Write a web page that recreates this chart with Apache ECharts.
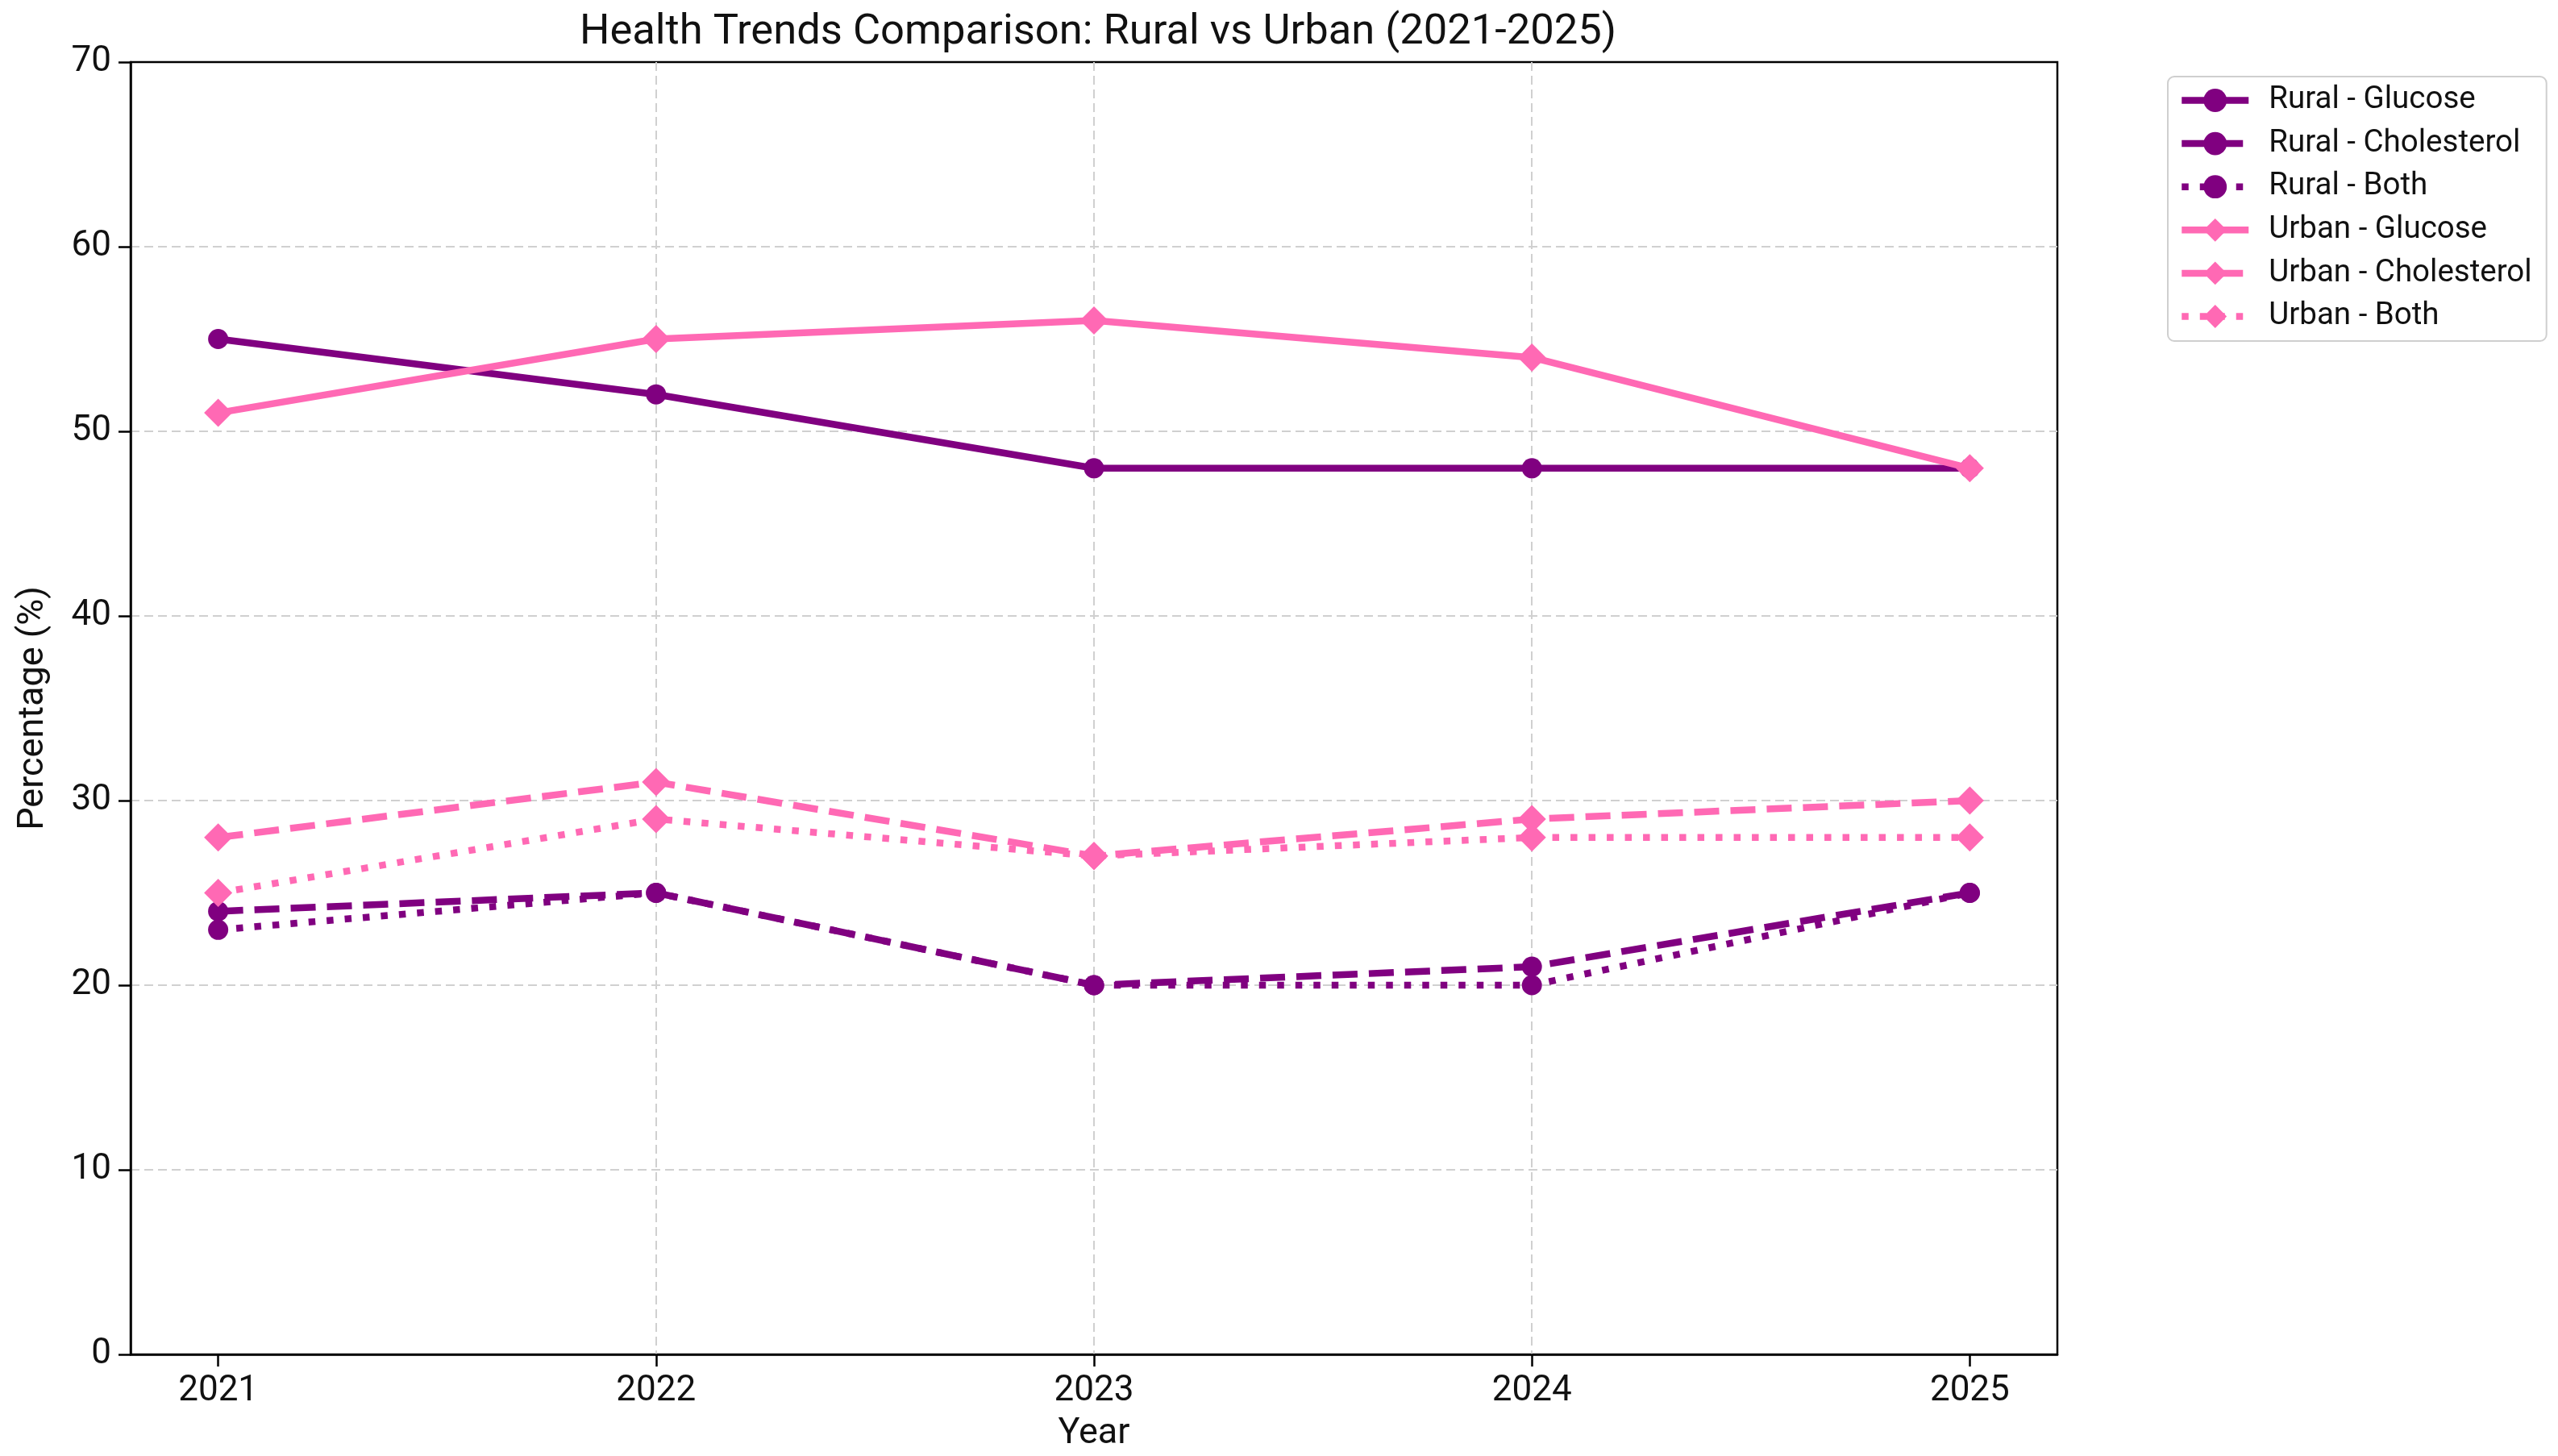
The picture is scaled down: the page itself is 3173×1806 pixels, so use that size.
<!DOCTYPE html>
<html>
<head>
<meta charset="utf-8">
<script src="https://cdn.jsdelivr.net/npm/echarts@6/dist/echarts.min.js"></script>
<style>
html,body{margin:0;padding:0;background:#fff;}
#chart{width:3173px;height:1806px;}
</style>
</head>
<body>
<div id="chart"></div>
<script>
const years = [2021, 2022, 2023, 2024, 2025];
const yTicks = [0, 10, 20, 30, 40, 50, 60, 70];
const ruralGlucose = [55, 52, 48, 48, 48];
const ruralCholesterol = [24, 25, 20, 21, 25];
const ruralBoth = [23, 25, 20, 20, 25];
const urbanGlucose = [51, 55, 56, 54, 48];
const urbanCholesterol = [28, 31, 27, 29, 30];
const urbanBoth = [25, 29, 27, 28, 28];

const PURPLE = '#800080';
const PINK = '#FF69B4';
const FONT = 'Roboto';
const LW = 8.5;
const DASH = [31, 14];
const DOT = [8.5, 14];

function mk(name, vals, color, symbol, size, type) {
  return {
    name: name,
    type: 'line',
    data: years.map((y, i) => [y, vals[i]]),
    symbol: symbol,
    symbolSize: size,
    showSymbol: true,
    itemStyle: { color: color },
    lineStyle: { color: color, width: LW, type: type, cap: 'butt' },
    emphasis: { disabled: true },
    animation: false
  };
}

const series = [
  mk('Rural - Glucose', ruralGlucose, PURPLE, 'circle', 25, 'solid'),
  mk('Rural - Cholesterol', ruralCholesterol, PURPLE, 'circle', 25, DASH),
  mk('Rural - Both', ruralBoth, PURPLE, 'circle', 25, DOT),
  mk('Urban - Glucose', urbanGlucose, PINK, 'diamond', 35, 'solid'),
  mk('Urban - Cholesterol', urbanCholesterol, PINK, 'diamond', 35, DASH),
  mk('Urban - Both', urbanBoth, PINK, 'diamond', 35, DOT)
];

const chart = echarts.init(document.getElementById('chart'), null, { renderer: 'canvas' });
chart.setOption({
  backgroundColor: '#fff',
  animation: false,
  textStyle: { fontFamily: FONT },
  title: {
    text: 'Health Trends Comparison: Rural vs Urban (2021-2025)',
    left: 1357,
    textAlign: 'center',
    top: 9,
    textStyle: { fontFamily: FONT, fontSize: 52.5, fontWeight: 'normal', color: '#111' }
  },
  legend: {
    orient: 'vertical',
    left: 2689,
    top: 95,
    padding: [10, 18, 11, 13],
    itemWidth: 83,
    itemHeight: 36,
    itemGap: 14.6,
    borderColor: '#cfcfcf',
    borderWidth: 2,
    borderRadius: 8,
    backgroundColor: '#fff',
    lineStyle: { width: LW },
    textStyle: { fontFamily: FONT, fontSize: 38.5, color: '#111', padding: [0, 0, 0, 20] },
    data: series.map(s => s.name)
  },
  grid: {
    left: 162, right: 621, top: 77, bottom: 120,
    show: true, borderColor: '#000', borderWidth: 2.5, backgroundColor: 'transparent',
    containLabel: false
  },
  xAxis: {
    type: 'value',
    min: 2020.8,
    max: 2025.2,
    name: 'Year',
    nameLocation: 'middle',
    nameGap: 76,
    nameTextStyle: { fontFamily: FONT, fontSize: 45, color: '#111' },
    axisLine: { show: true, lineStyle: { color: '#000', width: 2.5 } },
    axisTick: { show: true, length: 15, customValues: years, lineStyle: { color: '#000', width: 2.5 } },
    axisLabel: {
      customValues: years, margin: 24, fontFamily: FONT, fontSize: 44, color: '#111',
      formatter: v => String(v)
    },
    splitLine: { show: true, showMinLine: false, showMaxLine: false, lineStyle: { color: '#d0d0d0', width: 2, type: [11, 6] } }
  },
  yAxis: {
    type: 'value',
    min: 0,
    max: 70,
    interval: 10,
    name: 'Percentage (%)',
    nameLocation: 'middle',
    nameGap: 98,
    nameTextStyle: { fontFamily: FONT, fontSize: 45, color: '#111' },
    axisLine: { show: true, lineStyle: { color: '#000', width: 2.5 } },
    axisTick: { show: true, length: 15, lineStyle: { color: '#000', width: 2.5 } },
    axisLabel: {
      margin: 24, fontFamily: FONT, fontSize: 44, color: '#111',
      formatter: v => (yTicks.indexOf(v) >= 0 ? String(v) : '')
    },
    splitLine: { show: true, showMinLine: false, showMaxLine: false, lineStyle: { color: '#d0d0d0', width: 2, type: [11, 6] } }
  },
  series: series
});
</script>
</body>
</html>
